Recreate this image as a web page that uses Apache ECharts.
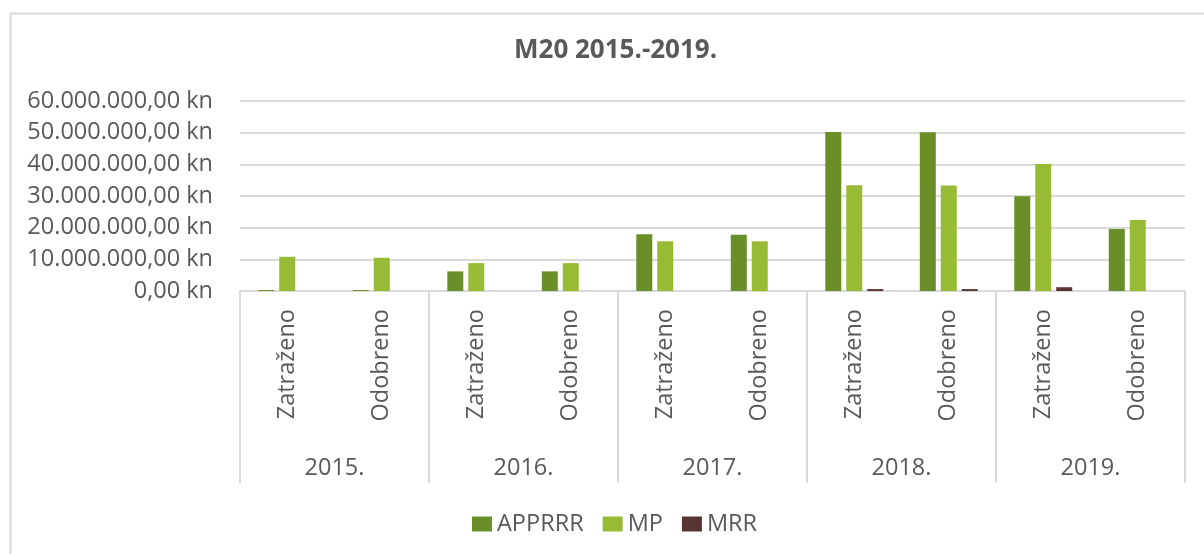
<!DOCTYPE html>
<html>
<head>
<meta charset="utf-8">
<script src="https://cdn.jsdelivr.net/npm/echarts@6/dist/echarts.min.js"></script>
<style>html,body{margin:0;padding:0;background:#fff;}#c{width:1204px;height:554px;}</style>
</head>
<body>
<div id="c"></div>
<script>
var subCategories = ['Zatraženo','Odobreno','Zatraženo','Odobreno','Zatraženo','Odobreno','Zatraženo','Odobreno','Zatraženo','Odobreno'];
var years = ['2015.','2016.','2017.','2018.','2019.'];
var seriesNames = ['APPRRR','MP','MRR'];
var APPRRR = [300000, 300000, 6200000, 6200000, 17900000, 17800000, 50200000, 50100000, 29900000, 19600000];
var MP = [10800000, 10500000, 8800000, 8800000, 15700000, 15700000, 33400000, 33300000, 40100000, 22400000];
var MRR = [0, 0, 0, 0, 0, 0, 600000, 600000, 1200000, 0];
var yTicks = {min: 0, max: 60000000, interval: 10000000};

function fmt(v){
  var s = Math.round(v).toString();
  s = s.replace(/\B(?=(\d{3})+(?!\d))/g, '.');
  return s + ',00 kn';
}
var FONT = 'Open Sans';
var TXT = '#595959';
var GRID = '#d9d9d9';
var FS = 23.5;
var chart = echarts.init(document.getElementById('c'));
var colors = ['#6a8f29','#97bb34','#5a3434'];
var data = [APPRRR, MP, MRR];
chart.setOption({
  animation: false,
  graphic: [{
    type: 'rect', left: 8, top: 11, silent: true,
    shape: {x: 0, y: 0, width: 1220, height: 600},
    style: {fill: 'none', stroke: GRID, lineWidth: 2}
  }],
  title: {
    text: 'M20 2015.-2019.', left: 509, top: 33,
    textStyle: {fontFamily: FONT, fontSize: 26, fontWeight: 'bold', color: TXT}
  },
  legend: {
    data: seriesNames, left: 467, top: 507, icon: 'rect',
    itemWidth: 20, itemHeight: 15, itemGap: 19,
    itemStyle: {borderWidth: 0},
    textStyle: {fontFamily: FONT, fontSize: FS, color: TXT}
  },
  grid: {left: 240, right: 19, top: 101, bottom: 263},
  xAxis: [{
    type: 'category', data: subCategories, position: 'bottom',
    axisLine: {show: true, lineStyle: {color: GRID, width: 2}},
    axisTick: {show: false},
    axisLabel: {rotate: 90, margin: 18, fontFamily: FONT, fontSize: FS, color: TXT, interval: 0}
  }, {
    type: 'category', data: years, position: 'bottom', offset: 192,
    axisLine: {show: false},
    axisTick: {show: true, inside: true, length: 192, interval: 0, lineStyle: {color: GRID, width: 2}},
    axisLabel: {inside: true, margin: 3, fontFamily: FONT, fontSize: FS, color: TXT, interval: 0},
    splitLine: {show: false}
  }],
  yAxis: {
    type: 'value', min: yTicks.min, max: yTicks.max, interval: yTicks.interval,
    axisLine: {show: false}, axisTick: {show: false},
    splitLine: {lineStyle: {color: GRID, width: 2}},
    axisLabel: {formatter: fmt, margin: 27, fontFamily: FONT, fontSize: FS, color: TXT}
  },
  series: seriesNames.map(function(n, i){
    return {
      name: n, type: 'bar', xAxisIndex: 0, data: data[i],
      barWidth: 16, barGap: '31%',
      itemStyle: {color: colors[i], borderWidth: 0}
    };
  })
});
</script>
</body>
</html>
